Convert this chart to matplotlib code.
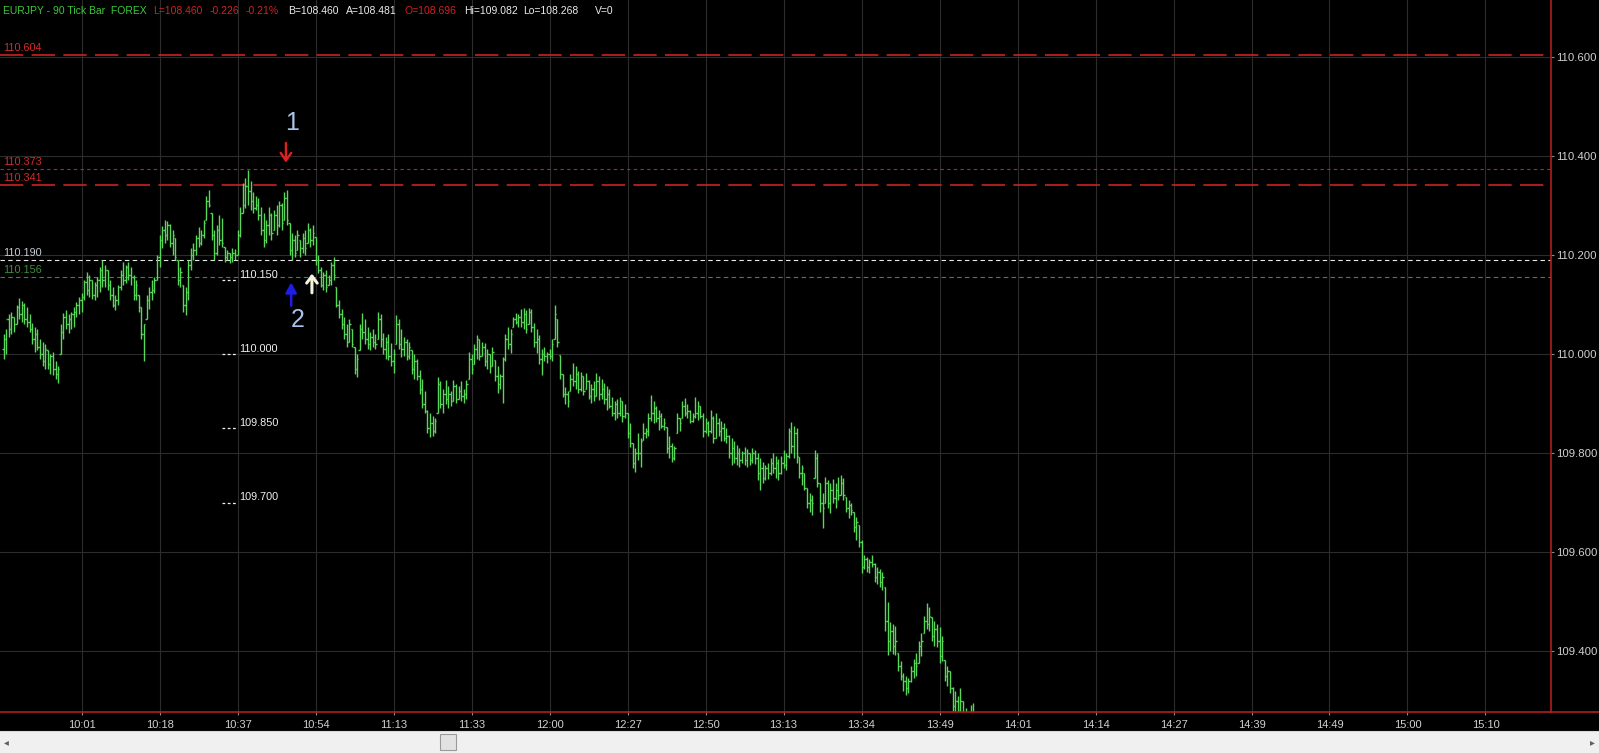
import numpy as np
import matplotlib
matplotlib.use('Agg')
import matplotlib.pyplot as plt
from matplotlib.lines import Line2D
from matplotlib.patches import Rectangle

plt.rcParams['font.family'] = ['Liberation Sans', 'DejaVu Sans']

# EURJPY 90 tick bars, prices in thousandths above 109.000
BASE = 109.0
highs = [
    1040, 1050, 1080, 1085, 1075, 1100, 1113, 1108, 1103, 1095,
    1080, 1063, 1055, 1050, 1030, 1025, 1020, 1008, 1000, 1005,
    985, 975, 1060, 1083, 1089, 1080, 1085, 1095, 1105, 1115,
    1123, 1150, 1166, 1160, 1150, 1145, 1156, 1175, 1190, 1180,
    1170, 1150, 1135, 1120, 1140, 1170, 1186, 1180, 1186, 1175,
    1160, 1150, 1120, 1095, 1060, 1120, 1135, 1150, 1156, 1200,
    1240, 1258, 1271, 1268, 1262, 1251, 1235, 1190, 1175, 1140,
    1135, 1190, 1215, 1224, 1240, 1257, 1250, 1270, 1320, 1332,
    1285, 1251, 1260, 1281, 1275, 1216, 1210, 1205, 1215, 1212,
    1250, 1297, 1345, 1355, 1372, 1350, 1327, 1320, 1315, 1297,
    1285, 1270, 1297, 1285, 1290, 1300, 1310, 1305, 1327, 1332,
    1264, 1245, 1240, 1251, 1230, 1245, 1250, 1264, 1255, 1260,
    1236, 1200, 1176, 1165, 1170, 1160, 1185, 1196, 1135, 1110,
    1090, 1075, 1060, 1070, 1050, 1014, 1000, 1060, 1083, 1070,
    1055, 1045, 1050, 1040, 1085, 1080, 1043, 1035, 1040, 1022,
    1010, 1079, 1070, 1050, 1035, 1030, 1025, 1008, 1000, 990,
    968, 950, 925, 887, 880, 875, 870, 954, 945, 930,
    948, 935, 925, 948, 940, 935, 945, 930, 948, 1004,
    1000, 1020, 1039, 1030, 1025, 1022, 1010, 1000, 1015, 988,
    975, 960, 994, 1040, 1055, 1050, 1075, 1083, 1080, 1090,
    1093, 1088, 1092, 1090, 1063, 1050, 1039, 1010, 1014, 1005,
    1010, 1030, 1099, 1070, 998, 960, 933, 925, 960, 982,
    975, 965, 964, 955, 962, 948, 940, 945, 962, 955,
    950, 942, 935, 930, 913, 905, 910, 913, 905, 900,
    881, 860, 820, 810, 840, 830, 860, 850, 880, 917,
    905, 895, 887, 880, 870, 852, 835, 820, 815, 881,
    870, 905, 911, 900, 887, 880, 913, 905, 895, 881,
    870, 865, 887, 875, 880, 870, 865, 860, 850, 836,
    830, 825, 816, 810, 805, 812, 808, 800, 810, 806,
    800, 790, 782, 775, 780, 790, 800, 795, 788, 795,
    806, 800, 850, 863, 855, 850, 792, 775, 760, 729,
    720, 715, 806, 800, 739, 720, 751, 745, 740, 748,
    740, 751, 755, 750, 711, 705, 700, 681, 670, 655,
    624, 594, 590, 585, 594, 578, 570, 565, 560, 529,
    500, 459, 455, 450, 396, 380, 356, 350, 345, 370,
    385, 396, 420, 436, 470, 497, 490, 469, 460, 455,
    449, 430, 382, 370, 360, 327, 320, 310, 325, 300,
    285, 250, 292, 295,
]
lows = [
    990, 1000, 1035, 1040, 1045, 1060, 1070, 1065, 1060, 1055,
    1045, 1020, 1005, 1008, 990, 975, 970, 970, 960, 958,
    950, 942, 1000, 1030, 1050, 1043, 1050, 1055, 1075, 1080,
    1085, 1110, 1120, 1115, 1112, 1110, 1115, 1125, 1135, 1135,
    1130, 1110, 1095, 1089, 1100, 1130, 1140, 1143, 1150, 1140,
    1110, 1109, 1085, 1030, 985, 1070, 1090, 1110, 1123, 1150,
    1175, 1215, 1225, 1230, 1216, 1200, 1190, 1140, 1135, 1085,
    1079, 1110, 1170, 1190, 1200, 1216, 1220, 1235, 1270, 1297,
    1230, 1190, 1200, 1220, 1216, 1185, 1190, 1184, 1186, 1190,
    1200, 1236, 1285, 1295, 1300, 1290, 1285, 1290, 1270, 1240,
    1216, 1225, 1240, 1230, 1250, 1240, 1257, 1250, 1270, 1260,
    1200, 1190, 1195, 1210, 1196, 1205, 1200, 1225, 1216, 1220,
    1180, 1164, 1135, 1130, 1125, 1140, 1140, 1150, 1095, 1073,
    1050, 1030, 1014, 1025, 1014, 960, 954, 1008, 1030, 1020,
    1010, 1008, 1015, 1010, 1030, 1014, 1000, 990, 988, 975,
    962, 1020, 1010, 994, 995, 988, 990, 960, 950, 948,
    920, 890, 881, 840, 832, 835, 840, 880, 890, 881,
    900, 891, 895, 905, 901, 910, 905, 901, 910, 950,
    960, 980, 990, 988, 995, 975, 970, 962, 975, 945,
    921, 930, 901, 985, 1010, 1002, 1055, 1060, 1055, 1055,
    1050, 1043, 1060, 1045, 1015, 1002, 980, 958, 985, 982,
    990, 985, 1030, 1014, 950, 913, 900, 893, 925, 935,
    930, 921, 925, 917, 930, 910, 901, 905, 915, 907,
    910, 900, 887, 890, 875, 867, 870, 875, 863, 870,
    830, 812, 770, 762, 785, 772, 826, 830, 835, 865,
    860, 862, 846, 850, 846, 800, 790, 781, 785, 840,
    845, 871, 875, 871, 860, 862, 870, 867, 870, 832,
    840, 835, 840, 820, 830, 835, 825, 825, 820, 790,
    776, 780, 775, 772, 780, 776, 772, 775, 780, 778,
    745, 725, 740, 745, 748, 755, 760, 750, 746, 758,
    770, 766, 790, 800, 790, 780, 750, 735, 725, 690,
    680, 675, 750, 731, 680, 649, 700, 690, 679, 700,
    690, 705, 715, 705, 680, 669, 675, 640, 625, 611,
    558, 565, 560, 558, 570, 540, 535, 530, 523, 440,
    392, 400, 395, 392, 360, 341, 320, 311, 315, 337,
    345, 350, 376, 390, 436, 445, 440, 420, 410, 408,
    376, 380, 340, 330, 315, 280, 270, 265, 275, 260,
    250, 220, 250, 255,
]
closes = [
    1030, 1070, 1050, 1075, 1060, 1095, 1080, 1100, 1070, 1065,
    1050, 1030, 1040, 1015, 1000, 985, 1010, 980, 995, 970,
    960, 970, 1045, 1075, 1060, 1070, 1080, 1085, 1100, 1110,
    1115, 1145, 1130, 1150, 1120, 1140, 1150, 1170, 1150, 1170,
    1140, 1120, 1100, 1110, 1135, 1160, 1150, 1175, 1160, 1155,
    1120, 1140, 1095, 1040, 1060, 1110, 1125, 1130, 1150, 1195,
    1230, 1250, 1240, 1260, 1225, 1240, 1195, 1150, 1165, 1100,
    1125, 1180, 1200, 1210, 1235, 1225, 1240, 1265, 1310, 1300,
    1240, 1205, 1250, 1230, 1225, 1195, 1205, 1195, 1205, 1200,
    1240, 1285, 1300, 1340, 1330, 1310, 1295, 1300, 1280, 1250,
    1230, 1260, 1280, 1245, 1280, 1260, 1300, 1265, 1315, 1270,
    1210, 1230, 1205, 1240, 1215, 1235, 1215, 1250, 1230, 1245,
    1190, 1170, 1140, 1160, 1135, 1150, 1180, 1160, 1100, 1080,
    1060, 1040, 1025, 1060, 1020, 970, 990, 1050, 1045, 1030,
    1020, 1035, 1025, 1020, 1070, 1030, 1010, 1025, 995, 985,
    1000, 1060, 1020, 1010, 1025, 995, 1015, 970, 985, 955,
    930, 900, 885, 850, 860, 845, 865, 940, 900, 920,
    910, 920, 905, 935, 910, 925, 915, 920, 940, 990,
    970, 1010, 1030, 995, 1015, 985, 1000, 975, 1005, 955,
    940, 955, 990, 1030, 1020, 1040, 1070, 1065, 1075, 1065,
    1080, 1050, 1085, 1055, 1025, 1030, 990, 1000, 995, 1000,
    995, 1020, 1080, 1025, 960, 920, 920, 905, 950, 945,
    960, 930, 955, 925, 945, 915, 930, 915, 945, 920,
    930, 910, 920, 895, 880, 900, 880, 905, 875, 880,
    840, 820, 780, 800, 800, 825, 840, 845, 870, 880,
    890, 870, 875, 855, 860, 810, 815, 790, 810, 870,
    860, 895, 880, 885, 865, 875, 880, 895, 875, 845,
    860, 845, 870, 830, 860, 845, 850, 830, 835, 800,
    810, 790, 800, 785, 800, 785, 800, 785, 800, 790,
    760, 770, 750, 770, 760, 780, 770, 780, 760, 780,
    775, 795, 845, 815, 840, 795, 760, 770, 730, 700,
    705, 700, 790, 740, 700, 690, 740, 700, 725, 710,
    725, 715, 740, 715, 690, 695, 685, 650, 660, 620,
    570, 585, 570, 580, 575, 550, 560, 540, 550, 460,
    420, 440, 410, 420, 370, 350, 340, 325, 340, 360,
    375, 370, 410, 420, 460, 455, 470, 430, 445, 420,
    390, 420, 350, 360, 325, 290, 300, 280, 300, 270,
    260, 235, 270, 275,
]
first_open = 1010

time_labels = ['10:01', '10:18', '10:37', '10:54', '11:13', '11:33', '12:00',
               '12:27', '12:50', '13:13', '13:34', '13:49', '14:01', '14:14',
               '14:27', '14:39', '14:49', '15:00', '15:10']
bars_per_label = 30

price_ticks = [109.4, 109.6, 109.8, 110.0, 110.2, 110.4, 110.6]

level_values = [110.604, 110.373, 110.341, 110.190, 110.156]
level_texts = ['110.604', '110.373', '110.341', '110.190', '110.156']

fib_values = [110.150, 110.000, 109.850, 109.700]
fib_texts = ['110.150', '110.000', '109.850', '109.700']

# ---------------------------------------------------------------
W, H = 1599, 753
BOTTOM = 712
AXR = 1551
fig = plt.figure(figsize=(W / 100, H / 100), dpi=100, facecolor='black')
ax = fig.add_axes([0, (H - BOTTOM) / H, AXR / W, BOTTOM / H], facecolor='black')

hi = BASE + np.array(highs) / 1000
lo = BASE + np.array(lows) / 1000
cl = BASE + np.array(closes) / 1000
op = np.concatenate([[BASE + first_open / 1000], cl[:-1]])
op = np.clip(op, lo, hi)
x = np.arange(len(hi))

green = '#58d858'
ax.vlines(x, lo, hi, color=green, lw=1.0, zorder=3)
ax.hlines(op, x - 0.5, x, color=green, lw=1.0, zorder=3)
ax.hlines(cl, x, x + 0.5, color=green, lw=1.0, zorder=3)

ax.set_xlim(-1.38, 595.2)
ax.set_ylim(109.277, 110.715)

# grid
ax.grid(True, color='#2c2c2c', lw=0.8, zorder=0)
ax.set_axisbelow(True)

ticks_x = [bars_per_label * (k + 1) for k in range(len(time_labels))]
ax.set_xticks(ticks_x)
ax.set_xticklabels(time_labels)
ax.yaxis.tick_right()
ax.set_yticks(price_ticks)
ax.set_yticklabels(['%.3f' % p for p in price_ticks])
ax.tick_params(axis='y', colors='#8a8a8a', labelcolor='#d0d0d0', labelsize=8.2,
               length=2, width=0.8, pad=1.5)
ax.tick_params(axis='x', colors='#8a8a8a', labelcolor='#d0d0d0', labelsize=8,
               length=2.5, width=0.8, pad=3.5)

for s in ['top', 'left', 'bottom']:
    ax.spines[s].set_visible(False)
ax.spines['right'].set_color('#b41e1e')
ax.spines['right'].set_linewidth(1.2)

# horizontal level lines
level_styles = [
    dict(color='#cc2222', lw=1.2, dashes=(14, 5)),
    dict(color='#c42020', lw=0.8, dashes=(3, 3)),
    dict(color='#cc2222', lw=1.2, dashes=(14, 5)),
    dict(color='#e8e8e8', lw=0.8, dashes=(4, 3)),
    dict(color='#3e8a3e', lw=0.8, dashes=(4, 3)),
]
label_colors = ['#d42a2a', '#d42a2a', '#d42a2a', '#c8ccd4', '#3e8e3e']
for v, t, st, c in zip(level_values, level_texts, level_styles, label_colors):
    ax.axhline(v, zorder=2, **st)
    ax.annotate(t, xy=(0.002, v), xycoords=ax.get_yaxis_transform(),
                xytext=(0, 3), textcoords='offset points', va='baseline',
                ha='left', color=c, fontsize=7.8)

# fib ladder drawn at 10:37..10:54
fib_bar = 84
for v, t in zip(fib_values, fib_texts):
    ax.plot([fib_bar, fib_bar + 5.5], [v, v], color='#f0f0f0', lw=0.9,
            dashes=(2.2, 2), zorder=4)
    ax.annotate(t, xy=(fib_bar + 6.5, v), xytext=(0, 1.5),
                textcoords='offset points', va='baseline', ha='left',
                color='#f0f0f0', fontsize=7.8, zorder=4)

# marks 1 / 2 and arrows
ax.text(111, 110.467, '1', color='#a8c4ec', fontsize=18, ha='center', va='center')
ax.text(113, 110.069, '2', color='#a8c4ec', fontsize=18, ha='center', va='center')
ax.annotate('', xy=(108.6, 110.381), xytext=(108.6, 110.432),
            arrowprops=dict(arrowstyle='->,head_length=0.55,head_width=0.38',
                            color='#e02020', lw=1.7))
ax.annotate('', xy=(110.6, 110.150), xytext=(110.6, 110.092),
            arrowprops=dict(arrowstyle='-|>,head_length=0.6,head_width=0.33',
                            color='#1e1ee6', lw=1.8))
ax.annotate('', xy=(118.6, 110.168), xytext=(118.6, 110.118),
            arrowprops=dict(arrowstyle='->,head_length=0.5,head_width=0.38',
                            color='#f4f4dc', lw=2.2))

# header
header = [
    (3, 'EURJPY - 90 Tick Bar  FOREX', '#3cc83c'),
    (153, 'L=108.460', '#d42020'),
    (210, '-0.226', '#d42020'),
    (246, '-0.21%', '#d42020'),
    (288, 'B=108.460', '#ececec'),
    (346, 'A=108.481', '#ececec'),
    (405, 'O=108.696', '#d42020'),
    (464, 'Hi=109.082', '#ececec'),
    (523, 'Lo=108.268', '#ececec'),
    (595, 'V=0', '#ececec'),
]
for px, t, c in header:
    fig.text(px / W, 1 - 11 / H, t, color=c, fontsize=7.5, ha='left', va='center')

# bottom red rule across full width
fig.add_artist(Line2D([0, 1], [1 - BOTTOM / H, 1 - BOTTOM / H],
                      color='#b41e1e', lw=1.2, transform=fig.transFigure))

# scrollbar
sb_top = 731
fig.add_artist(Rectangle((0, 0), 1, (H - sb_top) / H, transform=fig.transFigure,
                         facecolor='#f0f0f0', edgecolor='none'))
fig.add_artist(Line2D([0, 1], [(H - sb_top) / H] * 2, color='#d8d8d8', lw=0.8,
                      transform=fig.transFigure))
fig.add_artist(Rectangle((440 / W, 3 / H), 16 / W, 16 / H, transform=fig.transFigure,
                         facecolor='#e2e2e2', edgecolor='#9a9a9a', lw=0.8))
fig.text(6 / W, 10.5 / H, '◂', color='#606060', fontsize=7, ha='center', va='center')
fig.text(1592 / W, 10.5 / H, '▸', color='#606060', fontsize=7, ha='center', va='center')

fig.savefig('out.png', dpi=100, facecolor='black')
